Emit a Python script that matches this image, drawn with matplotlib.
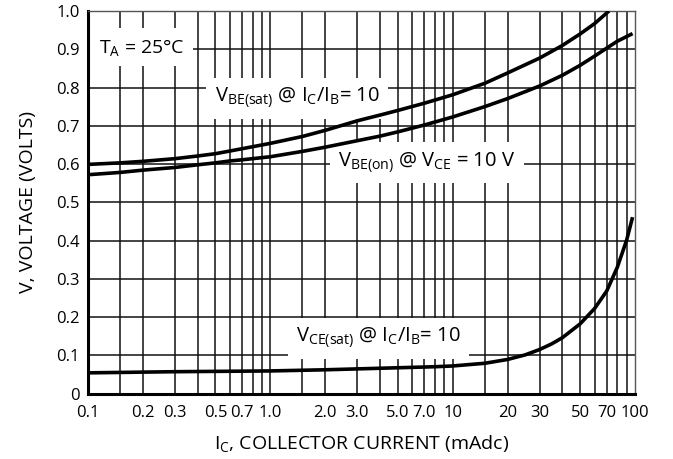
import numpy as np
import matplotlib
matplotlib.use('Agg')
import matplotlib.pyplot as plt
from matplotlib.ticker import FixedLocator, NullFormatter

plt.rcParams['font.family'] = ['Open Sans', 'DejaVu Sans']
plt.rcParams['mathtext.fontset'] = 'custom'
plt.rcParams['mathtext.rm'] = 'Open Sans'
plt.rcParams['mathtext.it'] = 'Open Sans'

# collector current (mA) and read-off voltages
ic_vbe_sat = [0.1, 0.15, 0.2, 0.3, 0.4, 0.5, 0.6, 0.7, 1.0, 1.5, 2.0, 3.0,
              4.0, 5.0, 7.0, 10, 15, 20, 30, 40, 50, 60, 72]
vbe_sat = [0.599, 0.603, 0.607, 0.614, 0.621, 0.627, 0.634, 0.640, 0.654,
           0.672, 0.688, 0.713, 0.728, 0.740, 0.759, 0.781, 0.811, 0.838,
           0.877, 0.910, 0.940, 0.967, 1.0]

ic_vbe_on = [0.1, 0.15, 0.2, 0.3, 0.4, 0.5, 0.6, 0.7, 1.0, 1.5, 2.0, 3.0,
             4.0, 5.0, 7.0, 10, 15, 20, 30, 40, 50, 60, 70, 80, 97]
vbe_on = [0.572, 0.578, 0.584, 0.591, 0.598, 0.603, 0.608, 0.611, 0.619,
          0.633, 0.644, 0.661, 0.673, 0.684, 0.702, 0.723, 0.750, 0.771,
          0.804, 0.832, 0.858, 0.882, 0.903, 0.921, 0.941]

ic_vce_sat = [0.1, 0.3, 1.0, 2.0, 4.0, 8.0, 10, 15, 20, 25, 30, 35, 40, 50,
              60, 70, 80, 90, 97]
vce_sat = [0.054, 0.057, 0.059, 0.062, 0.066, 0.070, 0.072, 0.079, 0.089,
           0.101, 0.115, 0.130, 0.146, 0.182, 0.222, 0.268, 0.330, 0.401,
           0.461]

x_ticks = [0.1, 0.2, 0.3, 0.5, 0.7, 1.0, 2.0, 3.0, 5.0, 7.0, 10, 20, 30, 50,
           70, 100]
x_labels = ['0.1', '0.2', '0.3', '0.5', '0.7', '1.0', '2.0', '3.0', '5.0',
            '7.0', '10', '20', '30', '50', '70', '100']
y_ticks = [0, 0.1, 0.2, 0.3, 0.4, 0.5, 0.6, 0.7, 0.8, 0.9, 1.0]
y_labels = ['0', '0.1', '0.2', '0.3', '0.4', '0.5', '0.6', '0.7', '0.8',
            '0.9', '1.0']

fig = plt.figure(figsize=(6.73, 4.59), dpi=100)
ax = fig.add_axes([0.1308, 0.1427, 0.8127, 0.8333])

for xs, ys in [(ic_vbe_sat, vbe_sat), (ic_vbe_on, vbe_on),
               (ic_vce_sat, vce_sat)]:
    ax.plot(xs, ys, color='black', lw=2.6, solid_joinstyle='round',
            solid_capstyle='butt', zorder=3)

ax.set_xscale('log')
ax.set_xlim(0.1, 100)
ax.set_ylim(0, 1.0)

# grid at 1, 1.5, 2 ... 9 of each decade
grid_x = [d * m for d in [0.1, 1, 10] for m in [1, 1.5, 2, 3, 4, 5, 6, 7, 8, 9]]
ax.xaxis.set_major_locator(FixedLocator(x_ticks))
ax.xaxis.set_minor_locator(FixedLocator(grid_x))
ax.xaxis.set_minor_formatter(NullFormatter())
ax.set_xticklabels(x_labels)
ax.set_yticks(y_ticks)
ax.set_yticklabels(y_labels)
ax.tick_params(which='both', length=0, labelsize=12)
ax.tick_params(axis='x', pad=8)
ax.tick_params(axis='y', pad=6)
for gx in grid_x[1:]:
    ax.axvline(gx, color='#111111', lw=1.1, zorder=1)
for gy in y_ticks[1:]:
    ax.axhline(gy, color='#111111', lw=1.1, zorder=1)

for side in ['left', 'bottom']:
    ax.spines[side].set_linewidth(2.2)
for side in ['top', 'right']:
    ax.spines[side].set_linewidth(1.0)
    ax.spines[side].set_color('#555555')

# white label boxes sit over the grid but under the curves
box = dict(facecolor='white', edgecolor='none', pad=6)
ax.text(0.197, 0.905, r'$\mathregular{T_A}$ = 25°C', fontsize=14,
        ha='center', va='center', bbox=box, zorder=2)
ax.text(1.4, 0.772, r'$\mathregular{V_{BE(sat)}}$ @ $\mathregular{I_C/I_B}$= 10',
        fontsize=14.5, ha='center', va='center', bbox=box, zorder=2)
ax.text(7.2, 0.603, r'$\mathregular{V_{BE(on)}}$ @ $\mathregular{V_{CE}}$ = 10 V',
        fontsize=14.5, ha='center', va='center', bbox=box, zorder=2)
ax.text(3.9, 0.145, r'$\mathregular{V_{CE(sat)}}$ @ $\mathregular{I_C/I_B}$= 10',
        fontsize=14.5, ha='center', va='center', bbox=box, zorder=2)

ax.set_xlabel(r'$\mathregular{I_C}$, COLLECTOR CURRENT (mAdc)', fontsize=14,
              labelpad=9)
ax.set_ylabel('V, VOLTAGE (VOLTS)', fontsize=14, labelpad=14)

fig.savefig('out.png', dpi=100)
